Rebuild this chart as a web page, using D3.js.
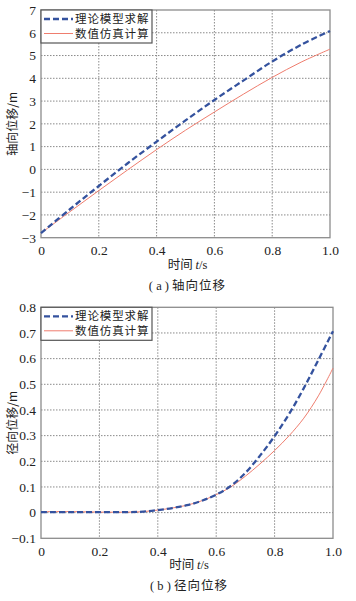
<!DOCTYPE html>
<html><head><meta charset="utf-8">
<script src="https://cdn.jsdelivr.net/npm/d3@7"></script>
<style>
body{margin:0;background:#fff;}
svg{display:block;}
</style></head><body>
<script>
// ---- data ----
const seriesNames = ["理论模型求解", "数值仿真计算"];
const xTicks = [0, 0.2, 0.4, 0.6, 0.8, 1.0];

// (a) axial displacement
const tA = [0, 0.1, 0.2, 0.3, 0.4, 0.5, 0.6, 0.7, 0.8, 0.9, 1.0];
const axialTheory = [-2.8, -1.75, -0.73, 0.27, 1.22, 2.15, 3.05, 3.9, 4.74, 5.47, 6.08];
const axialSim    = [-2.8, -1.86, -0.93, -0.02, 0.87, 1.72, 2.52, 3.3, 4.04, 4.71, 5.28];
const yTicksA = [-3, -2, -1, 0, 1, 2, 3, 4, 5, 6, 7];

// (b) radial displacement
const tB = [0, 0.1, 0.2, 0.3, 0.35, 0.4, 0.45, 0.5, 0.55, 0.6, 0.65, 0.7, 0.75, 0.8, 0.85, 0.9, 0.95, 1.0];
const radialTheory = [0.002, 0.002, 0.002, 0.002, 0.004, 0.01, 0.018, 0.029, 0.046, 0.07, 0.104, 0.155, 0.222, 0.298, 0.385, 0.485, 0.595, 0.707];
const radialSim    = [0.004, 0.004, 0.002, 0.002, 0.004, 0.01, 0.018, 0.029, 0.046, 0.07, 0.1, 0.142, 0.19, 0.242, 0.3, 0.368, 0.455, 0.563];
const yTicksB = [-0.1, 0, 0.1, 0.2, 0.3, 0.4, 0.5, 0.6, 0.7, 0.8];

const W = 356, H = 601;
const SERIF = '"Liberation Serif", "Times New Roman", "DejaVu Serif", serif';
const CJK = '"Noto Sans CJK SC", "Noto Sans CJK JP", sans-serif';
const svg = d3.select("body").append("svg").attr("width", W).attr("height", H);

const blue = "#34529e", red = "#ef7d6e";

function panel(cfg) {
  const x = d3.scaleLinear().domain([0, 1]).range([cfg.left, cfg.right]);
  const y = d3.scaleLinear().domain(cfg.yDomain).range([cfg.bottom, cfg.top]);
  const g = svg.append("g");

  // grid
  g.append("g").selectAll("line").data(cfg.yTicks.slice(1, -1)).join("line")
    .attr("x1", cfg.left).attr("x2", cfg.right)
    .attr("y1", d => y(d)).attr("y2", d => y(d))
    .attr("stroke", "#8a8a8a").attr("stroke-width", 1).attr("stroke-dasharray", "1.5,1.5");
  g.append("g").selectAll("line").data(xTicks.slice(1, -1)).join("line")
    .attr("y1", cfg.top).attr("y2", cfg.bottom)
    .attr("x1", d => x(d)).attr("x2", d => x(d))
    .attr("stroke", "#8a8a8a").attr("stroke-width", 1).attr("stroke-dasharray", "1.5,1.5");

  // axes (labels)
  const xAx = g.append("g").attr("transform", `translate(0,${cfg.bottom})`)
    .call(d3.axisBottom(x).tickValues(xTicks).tickFormat(d => d === 0 ? "0" : d3.format(".1f")(d)).tickSize(0).tickPadding(8));
  xAx.select(".domain").remove();
  xAx.attr("font-family", null).attr("font-size", null);
  xAx.selectAll("text").style("font-family", SERIF).style("font-size", "13.5px").attr("fill", "#222");

  const yAx = g.append("g").attr("transform", `translate(${cfg.left},0)`)
    .call(d3.axisLeft(y).tickValues(cfg.yTicks).tickFormat(cfg.yFmt).tickSize(0).tickPadding(5));
  yAx.select(".domain").remove();
  yAx.attr("font-family", null).attr("font-size", null);
  yAx.selectAll("text").style("font-family", SERIF).style("font-size", "13.5px").attr("fill", "#222");

  // box
  g.append("rect").attr("x", cfg.left).attr("y", cfg.top)
    .attr("width", cfg.right - cfg.left).attr("height", cfg.bottom - cfg.top)
    .attr("fill", "none").attr("stroke", "#8c8c8c").attr("stroke-width", 1.3);

  // lines
  const line = d3.line().x(d => x(d[0])).y(d => y(d[1])).curve(d3.curveCatmullRom.alpha(0.5));
  g.append("path").datum(cfg.t.map((t, i) => [t, cfg.sim[i]])).attr("d", line)
    .attr("fill", "none").attr("stroke", red).attr("stroke-width", 1);
  g.append("path").datum(cfg.t.map((t, i) => [t, cfg.theory[i]])).attr("d", line)
    .attr("fill", "none").attr("stroke", blue).attr("stroke-width", 2.3).attr("stroke-dasharray", "6,3");

  // legend
  const lx = cfg.left, ly = cfg.top;
  g.append("rect").attr("x", lx).attr("y", ly).attr("width", 111).attr("height", 33)
    .attr("fill", "#fff").attr("stroke", "#555").attr("stroke-width", 1.2);
  const rows = [{c: blue, w: 2.3, dash: "6,3"}, {c: red, w: 1, dash: null}];
  rows.forEach((r, i) => {
    const yy = ly + 9 + i * 14.5;
    g.append("line").attr("x1", lx + 3).attr("x2", lx + 32).attr("y1", yy).attr("y2", yy)
      .attr("stroke", r.c).attr("stroke-width", r.w).attr("stroke-dasharray", r.dash);
    g.append("text").attr("x", lx + 34).attr("y", yy + 4)
      .style("font-family", CJK).style("font-size", "11.5px").attr("letter-spacing", 0.9)
      .attr("fill", "#222").text(seriesNames[i]);
  });

  // axis titles
  g.append("text")
    .attr("transform", `translate(17,${(cfg.top + cfg.bottom) / 2}) rotate(-90)`)
    .attr("text-anchor", "middle").style("font-family", CJK).style("font-size", "12px")
    .attr("fill", "#222").text(cfg.yLabel);
  const xl = g.append("text").attr("x", (cfg.left + cfg.right) / 2 + 2).attr("y", cfg.bottom + 31)
    .attr("text-anchor", "middle").style("font-size", "12.5px").attr("fill", "#222");
  xl.append("tspan").style("font-family", CJK).text("时间 ");
  xl.append("tspan").style("font-style", "italic").style("font-family", SERIF).text("t");
  xl.append("tspan").style("font-family", SERIF).text("/s");

  const cap = g.append("text").attr("x", (cfg.left + cfg.right) / 2 + 2).attr("y", cfg.bottom + 52)
    .attr("text-anchor", "middle").style("font-size", "12.5px").attr("fill", "#222");
  cap.append("tspan").style("font-family", SERIF).text(cfg.capL);
  cap.append("tspan").style("font-family", CJK).attr("letter-spacing", 1).text(cfg.capT);
}

panel({
  left: 41, right: 330, top: 10, bottom: 237.7,
  yDomain: [-3, 7], yTicks: yTicksA, yFmt: d => d < 0 ? "\u2212" + Math.abs(d) : String(d),
  t: tA, theory: axialTheory, sim: axialSim,
  yLabel: "轴向位移/m", capL: "( a ) ", capT: "轴向位移"
});
panel({
  left: 41, right: 333, top: 307.3, bottom: 538.3,
  yDomain: [-0.1, 0.8], yTicks: yTicksB, yFmt: d => d === 0 ? "0" : (d < 0 ? "\u2212" : "") + d3.format(".1f")(Math.abs(d)),
  t: tB, theory: radialTheory, sim: radialSim,
  yLabel: "径向位移/m", capL: "( b ) ", capT: "径向位移"
});
</script>
</body></html>
